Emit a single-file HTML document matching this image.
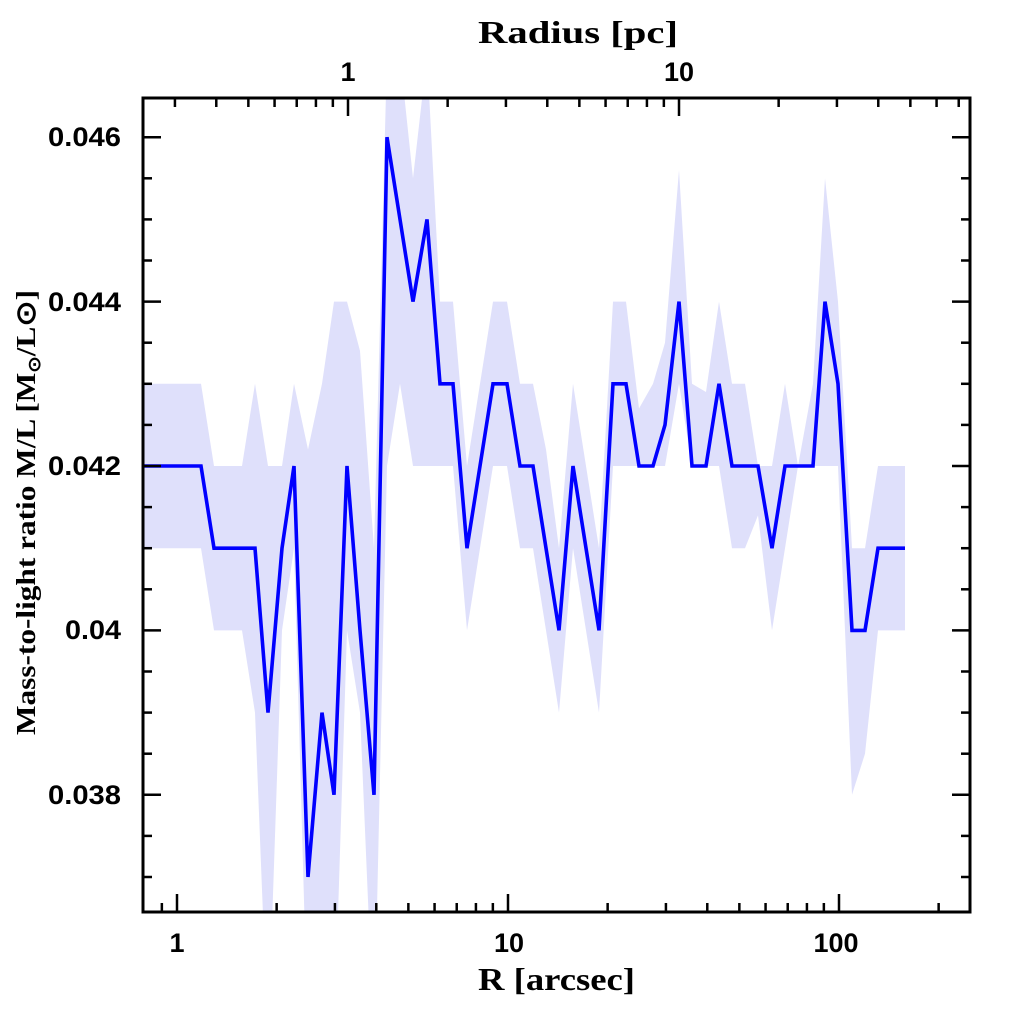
<!DOCTYPE html>
<html><head><meta charset="utf-8"><style>
html,body{margin:0;padding:0;background:#fff;width:1024px;height:1024px;overflow:hidden}
</style></head><body>
<svg id="s" width="1024" height="1024" xmlns="http://www.w3.org/2000/svg">
<g id="band"></g><g id="line"></g><g id="ax"></g>
<g font-family="Liberation Sans, sans-serif" font-weight="bold" font-size="27" fill="#000">
<text x="121" y="146" textLength="73" lengthAdjust="spacingAndGlyphs" text-anchor="end">0.046</text>
<text x="121" y="311" textLength="73" lengthAdjust="spacingAndGlyphs" text-anchor="end">0.044</text>
<text x="121" y="475" textLength="73" lengthAdjust="spacingAndGlyphs" text-anchor="end">0.042</text>
<text x="121" y="639" textLength="56" lengthAdjust="spacingAndGlyphs" text-anchor="end">0.04</text>
<text x="121" y="804" textLength="73" lengthAdjust="spacingAndGlyphs" text-anchor="end">0.038</text>
<text x="177" y="952" text-anchor="middle">1</text>
<text x="509" y="952" text-anchor="middle">10</text>
<text x="836" y="952" text-anchor="middle">100</text>
<text x="348" y="81" text-anchor="middle">1</text>
<text x="679" y="81" text-anchor="middle">10</text>
</g>
<g font-family="Liberation Serif, serif" font-weight="bold" font-size="32" fill="#000">
<text x="478" y="43" textLength="200" lengthAdjust="spacingAndGlyphs">Radius [pc]</text>
<text x="478" y="990" textLength="157" lengthAdjust="spacingAndGlyphs">R [arcsec]</text>
<text transform="translate(35,735) rotate(-90)" font-size="27" textLength="445" lengthAdjust="spacingAndGlyphs">Mass-to-light ratio M/L [M<tspan font-size="17" dy="5">⊙</tspan><tspan dy="-5">/L⊙]</tspan></text>
</g>
</svg>
<script>
const Y=v=>466-(v-42)*82.2;
const pts=[[143,42,43,41],[201,42,43,41],[214,41,42,40],[242,41,42,40],[255,41,43,39],[268,39,42,35],[282,41,42,40],[294,42,43,41],[308,37,42.2,35],[322,39,43,35],[334,38,44,35],[347,42,44,40],[360,40,43.4,39],[374,38,41,35],[387,46,47,42],[400,45,47,43],[413,44,45.5,42],[427,45,47,42],[440,43,44,42],[453,43,44,42],[467,41,42,40],[480,42,43,41],[493,43,44,42],[507,43,44,42],[520,42,43,41],[533,42,43,41],[546,41,42.2,40],[559,40,41,39],[573,42,43,41],[586,41,42,40],[599,40,41,39],[613,43,44,42],[626,43,44,42],[639,42,42.7,42],[653,42,43,42],[665,42.5,43.5,42],[679,44,45.6,43],[692,42,43,42],[706,42,42.9,42],[719,43,44,42],[732,42,43,41],[745,42,43,41],[758,42,42,41.4],[772,41,42,40],[785,42,43,41],[798,42,42,42],[813,42,43,42],[825,44,45.5,42],[838,43,44,42],[852,40,41,38],[865,40,41,38.5],[878,41,42,40],[905,41,42,40]];
let up=pts.map(p=>p[0]+','+Y(p[2])).join(' ');
let lo=pts.slice().reverse().map(p=>p[0]+','+Y(p[3])).join(' ');
document.getElementById('band').innerHTML=`<clipPath id="c"><rect x="143" y="98" width="827" height="814"/></clipPath><polygon clip-path="url(#c)" points="${up} ${lo}" fill="#dfe0fb"/>`;
document.getElementById('line').innerHTML=`<polyline points="${pts.map(p=>p[0]+','+Y(p[1])).join(' ')}" fill="none" stroke="#0000ff" stroke-width="3.6" stroke-linejoin="miter"/>`;
let a='<rect x="143" y="98" width="827" height="814" fill="none" stroke="#000" stroke-width="3"/>';
const L=(x1,y1,x2,y2)=>a+=`<line x1="${x1}" y1="${y1}" x2="${x2}" y2="${y2}" stroke="#000" stroke-width="2.5"/>`;
for(let v=36.5;v<=46.5;v+=0.5){const y=Y(v);if(y<100||y>910)continue;const maj=Math.abs(v%2)<1e-6;const l=maj?18:9;L(143,y,143+l,y);L(970,y,970-l,y);}
const X=r=>177+331*Math.log10(r);
for(const d of [0.1,1,10,100]){for(let k=1;k<10;k++){const x=X(d*k);if(x<145||x>968)continue;const l=k==1?18:9;L(x,912,x,912-l);}}
const P=r=>348+331*Math.log10(r);
for(const d of [0.1,1,10]){for(let k=1;k<10;k++){const x=P(d*k);if(x<145||x>968)continue;const l=k==1?18:9;L(x,98,x,98+l);}}
document.getElementById('ax').innerHTML=a;
</script>
</body></html>
